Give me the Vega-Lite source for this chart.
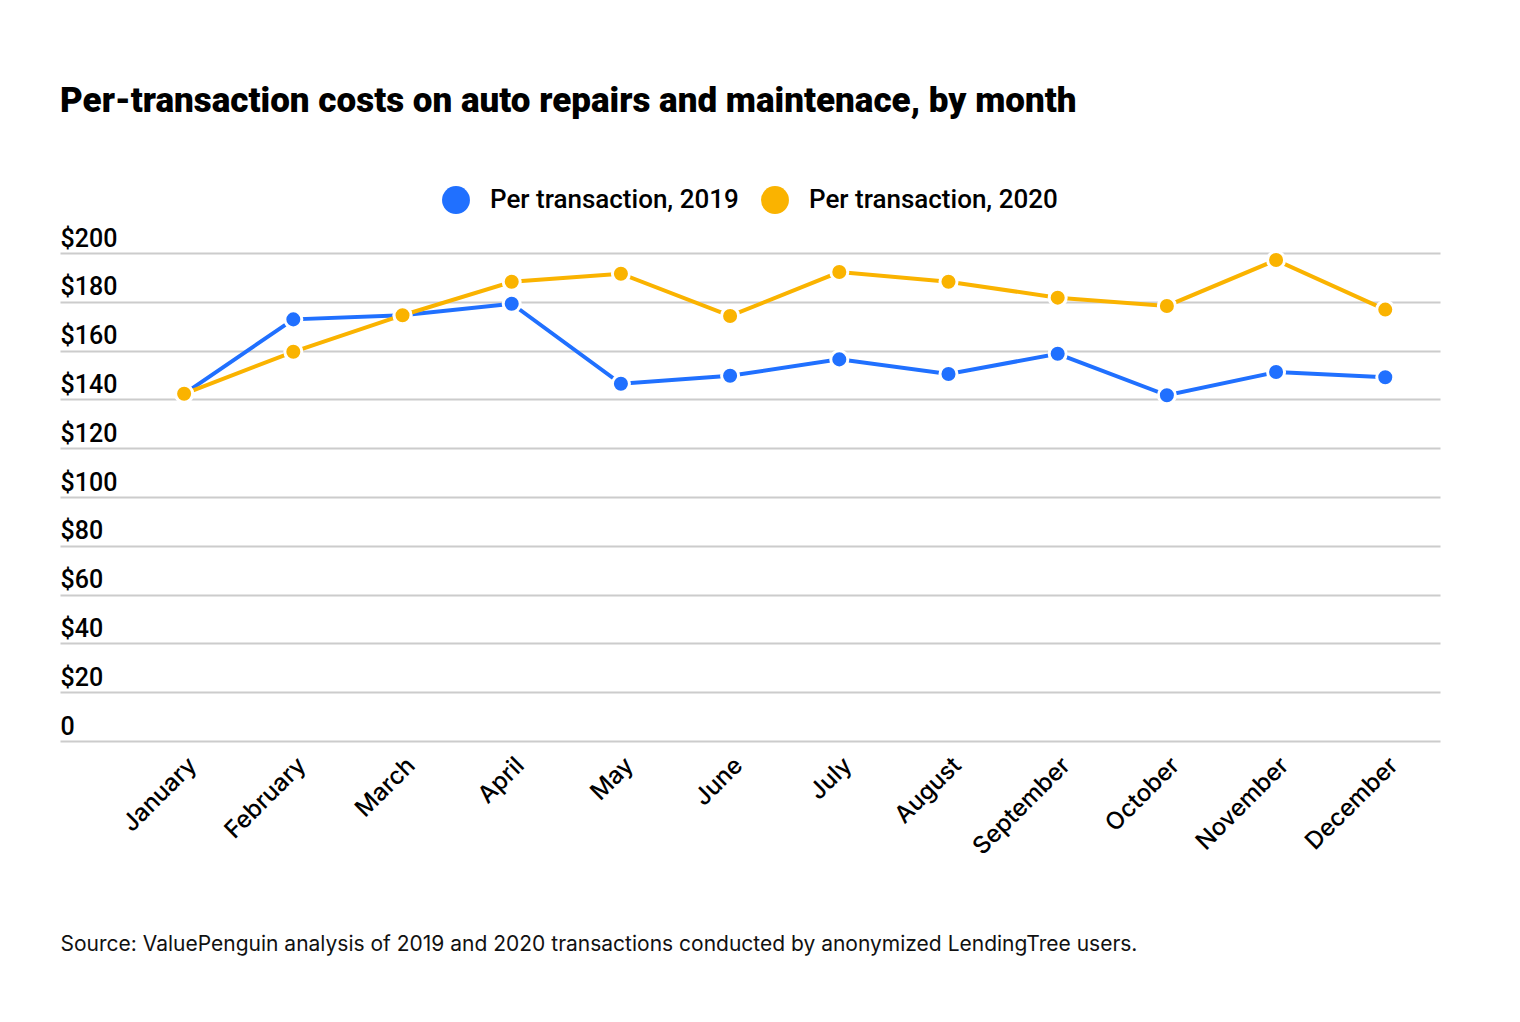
{
  "$schema": "https://vega.github.io/schema/vega-lite/v6.json",
  "autosize": {"type": "none"},
  "padding": {"left": 60, "top": 253, "right": 80, "bottom": 281},
  "width": 1380,
  "height": 488,
  "background": "white",
  "title": {
    "text": "Per-transaction costs on auto repairs and maintenace, by month",
    "anchor": "start",
    "frame": "group",
    "font": "Roboto",
    "fontSize": 35,
    "fontWeight": 900,
    "color": "#000000",
    "offset": 67
  },
  "data": {
    "values": [
      {"month": "January", "series": "Per transaction, 2019", "cost": 142.3},
      {"month": "February", "series": "Per transaction, 2019", "cost": 172.8},
      {"month": "March", "series": "Per transaction, 2019", "cost": 174.5},
      {"month": "April", "series": "Per transaction, 2019", "cost": 179.2},
      {"month": "May", "series": "Per transaction, 2019", "cost": 146.4},
      {"month": "June", "series": "Per transaction, 2019", "cost": 149.7},
      {"month": "July", "series": "Per transaction, 2019", "cost": 156.4},
      {"month": "August", "series": "Per transaction, 2019", "cost": 150.4},
      {"month": "September", "series": "Per transaction, 2019", "cost": 158.7},
      {"month": "October", "series": "Per transaction, 2019", "cost": 141.7},
      {"month": "November", "series": "Per transaction, 2019", "cost": 151.2},
      {"month": "December", "series": "Per transaction, 2019", "cost": 149.1},
      {"month": "January", "series": "Per transaction, 2020", "cost": 142.3},
      {"month": "February", "series": "Per transaction, 2020", "cost": 159.5},
      {"month": "March", "series": "Per transaction, 2020", "cost": 174.5},
      {"month": "April", "series": "Per transaction, 2020", "cost": 188.2},
      {"month": "May", "series": "Per transaction, 2020", "cost": 191.5},
      {"month": "June", "series": "Per transaction, 2020", "cost": 174.2},
      {"month": "July", "series": "Per transaction, 2020", "cost": 192.2},
      {"month": "August", "series": "Per transaction, 2020", "cost": 188.2},
      {"month": "September", "series": "Per transaction, 2020", "cost": 181.7},
      {"month": "October", "series": "Per transaction, 2020", "cost": 178.3},
      {"month": "November", "series": "Per transaction, 2020", "cost": 197.1},
      {"month": "December", "series": "Per transaction, 2020", "cost": 176.8}
    ]
  },
  "encoding": {
    "x": {
      "field": "month",
      "type": "ordinal",
      "sort": ["January", "February", "March", "April", "May", "June", "July", "August", "September", "October", "November", "December"],
      "scale": {"type": "point", "padding": 0.819, "align": 0.694},
      "title": "Source: ValuePenguin analysis of 2019 and 2020 transactions conducted by anonymized LendingTree users.",
      "axis": {
        "domain": false,
        "ticks": false,
        "grid": false,
        "labelAngle": -45,
        "labelFont": "Inter",
        "labelFontSize": 24,
        "labelFontWeight": 500,
        "labelColor": "#000000",
        "labelPadding": 12,
        "titleFont": "Inter",
        "titleFontSize": 21,
        "titleFontWeight": "normal",
        "titleColor": "#111111",
        "titleAlign": "left",
        "titleBaseline": "alphabetic",
        "titleX": 0,
        "titleY": 209
      }
    },
    "y": {
      "field": "cost",
      "type": "quantitative",
      "scale": {"domain": [0, 200], "nice": false},
      "title": null,
      "axis": {
        "values": [0, 20, 40, 60, 80, 100, 120, 140, 160, 180, 200],
        "domain": false,
        "ticks": false,
        "gridColor": "#cccccc",
        "gridWidth": 2,
        "labelAlign": "left",
        "labelBaseline": "alphabetic",
        "labelPadding": 0,
        "labelOffset": -7,
        "labelFlush": false,
        "labelFont": "Roboto",
        "labelFontSize": 25,
        "labelFontWeight": 500,
        "labelColor": "#000000",
        "labelExpr": "datum.value == 0 ? '0' : '$' + datum.label"
      }
    }
  },
  "layer": [
    {
      "mark": {"type": "line", "strokeWidth": 4},
      "encoding": {
        "stroke": {
          "field": "series",
          "type": "nominal",
          "scale": {
            "domain": ["Per transaction, 2019", "Per transaction, 2020"],
            "range": ["#2070ff", "#fab300"]
          }
        }
      }
    },
    {
      "mark": {"type": "point", "filled": true, "opacity": 1, "size": 290, "stroke": "white", "strokeWidth": 3},
      "encoding": {
        "fill": {
          "field": "series",
          "type": "nominal",
          "scale": {
            "domain": ["Per transaction, 2019", "Per transaction, 2020"],
            "range": ["#2070ff", "#fab300"]
          },
          "legend": {
            "orient": "top",
            "direction": "horizontal",
            "offset": 38,
            "title": null,
            "padding": 0,
            "symbolType": "circle",
            "symbolSize": 780,
            "symbolStrokeWidth": 0,
            "symbolOpacity": 1,
            "labelFont": "Roboto",
            "labelFontSize": 26,
            "labelFontWeight": 500,
            "labelColor": "#000000",
            "labelLimit": 0,
            "labelOffset": 20,
            "columnPadding": 22
          }
        }
      }
    }
  ],
  "config": {
    "view": {"stroke": null},
    "legend": {"layout": {"top": {"anchor": "middle"}}}
  }
}
